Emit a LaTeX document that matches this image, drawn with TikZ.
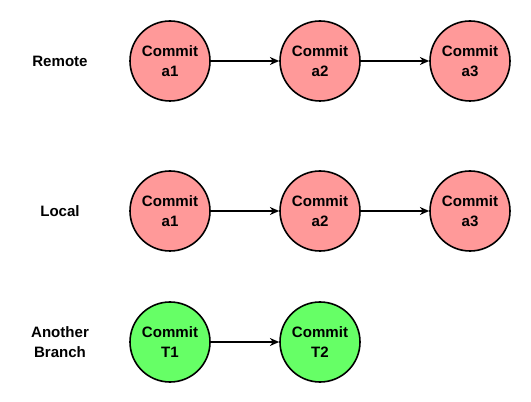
\documentclass[tikz,border=0pt]{standalone}
\usepackage{fontspec}
\setmainfont{Liberation Sans}
\usetikzlibrary{arrows.meta}
\definecolor{redfill}{HTML}{FF9999}
\definecolor{greenfill}{HTML}{66FF66}
\begin{document}
\begin{tikzpicture}[x=0.75pt,y=-0.75pt,
  commit/.style={circle,draw=black,line width=1.2pt,minimum size=60pt,inner sep=0pt,align=center,font=\bfseries\fontsize{11.3}{15}\selectfont},
  redc/.style={commit,fill=redfill},
  greenc/.style={commit,fill=greenfill},
  lbl/.style={align=center,font=\bfseries\fontsize{11.3}{15}\selectfont},
  conn/.style={draw=black,line width=1pt,-{Stealth[length=7pt,width=6pt]}}]
\useasboundingbox (0,0) rectangle (531,402);
\node[lbl] (lr) at (60,61) {Remote};
\node[redc] (r1) at (170,61) {Commit\\a1};
\node[redc] (r2) at (320,61) {Commit\\a2};
\node[redc] (r3) at (470,61) {Commit\\a3};
\node[lbl] (ll) at (60,211) {Local};
\node[redc] (l1) at (170,211) {Commit\\a1};
\node[redc] (l2) at (320,211) {Commit\\a2};
\node[redc] (l3) at (470,211) {Commit\\a3};
\node[lbl] (lb) at (60,342) {Another\\Branch};
\node[greenc] (b1) at (170,342) {Commit\\T1};
\node[greenc] (b2) at (320,342) {Commit\\T2};
\draw[conn] (r1) -- (r2);
\draw[conn] (r2) -- (r3);
\draw[conn] (l1) -- (l2);
\draw[conn] (l2) -- (l3);
\draw[conn] (b1) -- (b2);
\end{tikzpicture}
\end{document}
